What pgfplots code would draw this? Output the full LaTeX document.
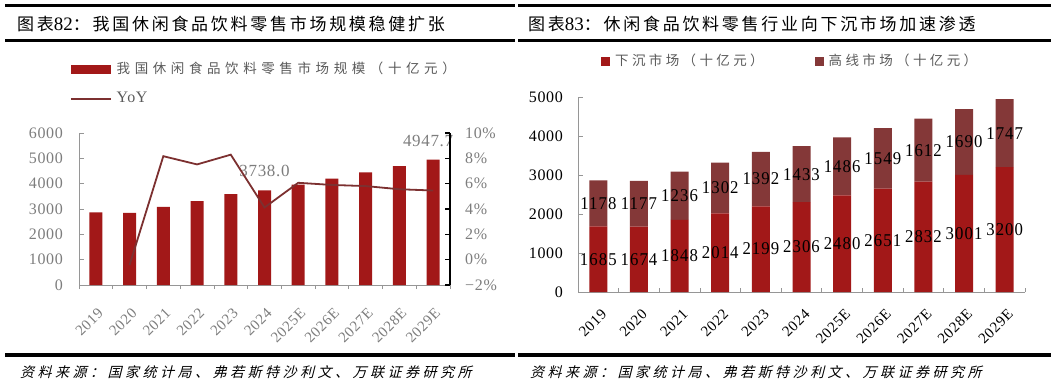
\documentclass[border=0pt]{standalone}
\usepackage{fontspec}
\setmainfont{Liberation Serif}
\newfontfamily\cjkt[LetterSpace=16]{Noto Sans CJK SC}
\newfontfamily\cjkl[LetterSpace=25]{Noto Sans CJK SC}
\newfontfamily\cjkll[LetterSpace=34]{Noto Sans CJK SC}
\newfontfamily\cjks[FakeSlant=0.25,LetterSpace=25]{Noto Sans CJK SC}
\newfontfamily\numf[LetterSpace=4]{Liberation Serif}
\newfontfamily\numl[LetterSpace=6,FakeStretch=0.93]{Liberation Serif}
\usepackage{pgfplots}
\pgfplotsset{compat=1.18}
\definecolor{barred}{RGB}{162,24,24}
\definecolor{upc}{RGB}{132,56,56}
\definecolor{linec}{RGB}{124,48,48}
\definecolor{tgray}{RGB}{125,125,125}
\definecolor{lgray}{RGB}{90,90,90}
\definecolor{agray}{RGB}{150,150,150}
\newcommand\titlef{\cjkt\fontsize{17bp}{20bp}\selectfont}
\newcommand\titlen{\rmfamily\fontsize{19bp}{20bp}\selectfont}
\newcommand\legf{\cjkl\fontsize{13.5bp}{16bp}\selectfont}
\newcommand\legff{\cjkll\fontsize{13.5bp}{16bp}\selectfont}
\newcommand\srcf{\cjks\fontsize{14bp}{16bp}\selectfont}
\newcommand\tickf{\numf\fontsize{16bp}{18bp}\selectfont}
\newcommand\tickx{\numf\fontsize{15bp}{17bp}\selectfont}
\newcommand\labf{\numf\fontsize{17bp}{19bp}\selectfont}
\newcommand\labr{\numl\fontsize{18bp}{20bp}\selectfont}
\begin{document}
\begin{tikzpicture}[x=1bp,y=1bp]
\useasboundingbox (0,0) rectangle (1056,-387);
\draw[line width=2.5bp] (5,-5.5)--(515,-5.5);
\draw[line width=2.5bp] (518,-5.5)--(1051,-5.5);
\draw[line width=2.5bp] (5,-40.5)--(515,-40.5);
\draw[line width=2.5bp] (518,-40.5)--(1051,-40.5);
\draw[line width=3.5bp] (5,-355)--(515,-355);
\draw[line width=3.5bp] (518,-355)--(1051,-355);
\node[anchor=west,inner sep=0pt] at (17,-24) {{\titlef 图表}{\titlen 82}{\titlef ：我国休闲食品饮料零售市场规模稳健扩张}};
\node[anchor=west,inner sep=0pt] at (528,-24) {{\titlef 图表}{\titlen 83}{\titlef ：休闲食品饮料零售行业向下沉市场加速渗透}};
\node[anchor=west,inner sep=0pt] at (20,-372) {\srcf 资料来源：国家统计局、弗若斯特沙利文、万联证券研究所};
\node[anchor=west,inner sep=0pt] at (530,-372) {\srcf 资料来源：国家统计局、弗若斯特沙利文、万联证券研究所};

% ---------- left chart: bars ----------
\begin{axis}[
  at={(79bp,-285bp)}, anchor=south west, scale only axis,
  width=371bp, height=152bp, clip=false,
  xmin=-0.5, xmax=10.5, ymin=0, ymax=6000,
  axis x line*=bottom, axis y line*=left,
  axis line style={draw=agray, line width=0.8bp, -},
  tick align=inside, major tick length=5bp, minor tick length=4bp,
  tick style={draw=agray, line width=0.8bp},
  ytick={0,1000,...,6000},
  yticklabels={0,1000,2000,3000,4000,5000,6000},
  yticklabel style={font=\tickf, text=tgray, inner sep=0pt, xshift=-16bp},
  xtick={0,...,10},
  xticklabels={2019,2020,2021,2022,2023,2024,2025E,2026E,2027E,2028E,2029E},
  major x tick style={draw=none},
  minor xtick={-0.5,0.5,...,10.5},
  xticklabel style={font=\tickx, text=tgray, inner sep=0pt, yshift=-17bp, xshift=1bp, rotate=45, anchor=north east},
  ybar, bar width=13bp,
  legend style={draw=none, fill=none, inner sep=0pt, at={(-0.0243,1.3207)}, anchor=west,
    nodes={inner sep=0pt, text height=10bp, text depth=3bp}, column sep=5bp, row sep=16.5bp, font=\legff, text=lgray},
  legend cell align=left,
]
\addplot[fill=barred, draw=none, legend image code/.code={\fill[barred] (0bp,-4.5bp) rectangle (40bp,4.5bp);}]
  coordinates {(0,2863) (1,2851) (2,3084) (3,3316) (4,3591) (5,3739) (6,3966) (7,4200) (8,4444) (9,4691) (10,4947)};
\addlegendentry{我国休闲食品饮料零售市场规模（十亿元）}
\addlegendimage{linec, line width=1.5bp, legend image code/.code={\draw[linec, line width=1.5bp] (0bp,0bp)--(40bp,0bp);}}
\addlegendentry{{\tickf YoY}}
\node[font=\labf, text=tgray, inner sep=0pt] at (axis cs:5,4500) {3738.0};
\node[font=\labf, text=tgray, inner sep=0pt] at (axis cs:9.85,5684) {4947.7};
\end{axis}

% ---------- left chart: YoY ----------
\begin{axis}[
  at={(79bp,-285bp)}, anchor=south west, scale only axis,
  width=371bp, height=152bp,
  xmin=-0.5, xmax=10.5, ymin=-2, ymax=10,
  axis x line=none, axis y line*=right,
  y axis line style={draw=black, line width=1.5bp, -},
  tick align=inside, major tick length=5bp,
  ytick style={draw=black, line width=1.2bp},
  ytick={-2,0,...,10},
  yticklabels={−2\%,0\%,2\%,4\%,6\%,8\%,10\%},
  yticklabel style={font=\tickf, text=tgray, inner sep=0pt, xshift=15bp},
]
\addplot[linec, line width=1.8bp, mark=none]
  coordinates {(1,-0.42) (2,8.17) (3,7.52) (4,8.29) (5,4.12) (6,6.07) (7,5.90) (8,5.81) (9,5.56) (10,5.46)};
\end{axis}

% ---------- right chart: stacked bars ----------
\begin{axis}[
  at={(578bp,-292bp)}, anchor=south west, scale only axis,
  width=447bp, height=195bp,
  xmin=-0.5, xmax=10.5, ymin=0, ymax=5000,
  axis x line*=bottom, axis y line*=left,
  axis line style={draw=agray, line width=0.8bp, -},
  tick align=inside, major tick length=5bp, minor tick length=4bp,
  tick style={draw=agray, line width=0.8bp},
  ytick={0,1000,...,5000},
  yticklabels={0,1000,2000,3000,4000,5000},
  yticklabel style={font=\tickf, text=black, inner sep=0pt, xshift=-15bp},
  xtick={0,...,10},
  xticklabels={2019,2020,2021,2022,2023,2024,2025E,2026E,2027E,2028E,2029E},
  major x tick style={draw=none},
  minor xtick={-0.5,0.5,...,10.5},
  xticklabel style={font=\tickx, text=black, inner sep=0pt, yshift=-16bp, xshift=2bp, rotate=45, anchor=north east},
  ybar stacked, bar width=18bp,
  legend columns=2,
  legend style={draw=none, fill=none, inner sep=0pt, at={(0.0515,1.182)}, anchor=west,
    nodes={inner sep=0pt, text height=10bp, text depth=3bp}, column sep=5bp, font=\legf, text=lgray,
    /tikz/every even column/.append style={column sep=51bp}},
]
\addplot[fill=barred, draw=none, legend image code/.code={\fill[barred] (0bp,-4.5bp) rectangle (9bp,4.5bp);}]
  coordinates {(0,1685) (1,1674) (2,1848) (3,2014) (4,2199) (5,2306) (6,2480) (7,2651) (8,2832) (9,3001) (10,3200)};
\addlegendentry{下沉市场（十亿元）}
\addplot[fill=upc, draw=none, legend image code/.code={\fill[upc] (0bp,-4.5bp) rectangle (9bp,4.5bp);}]
  coordinates {(0,1178) (1,1177) (2,1236) (3,1302) (4,1392) (5,1433) (6,1486) (7,1549) (8,1612) (9,1690) (10,1747)};
\addlegendentry{高线市场（十亿元）}
\end{axis}

% ---------- right chart: segment labels ----------
\begin{axis}[
  at={(578bp,-292bp)}, anchor=south west, scale only axis,
  width=447bp, height=195bp,
  xmin=-0.5, xmax=10.5, ymin=0, ymax=5000,
  hide axis,
  nodes near coords, point meta=explicit symbolic,
  every node near coord/.append style={anchor=center, font=\labr, text=black, inner sep=0pt},
]
\addplot[draw=none, mark=none] coordinates {
  (0,842)[1685] (1,837)[1674] (2,924)[1848] (3,1007)[2014] (4,1100)[2199] (5,1153)[2306]
  (6,1240)[2480] (7,1326)[2651] (8,1416)[2832] (9,1500)[3001] (10,1600)[3200]};
\addplot[draw=none, mark=none] coordinates {
  (0,2274)[1178] (1,2262)[1177] (2,2466)[1236] (3,2665)[1302] (4,2895)[1392] (5,3022)[1433]
  (6,3223)[1486] (7,3426)[1549] (8,3638)[1612] (9,3846)[1690] (10,4073)[1747]};
\end{axis}
\end{tikzpicture}
\end{document}
